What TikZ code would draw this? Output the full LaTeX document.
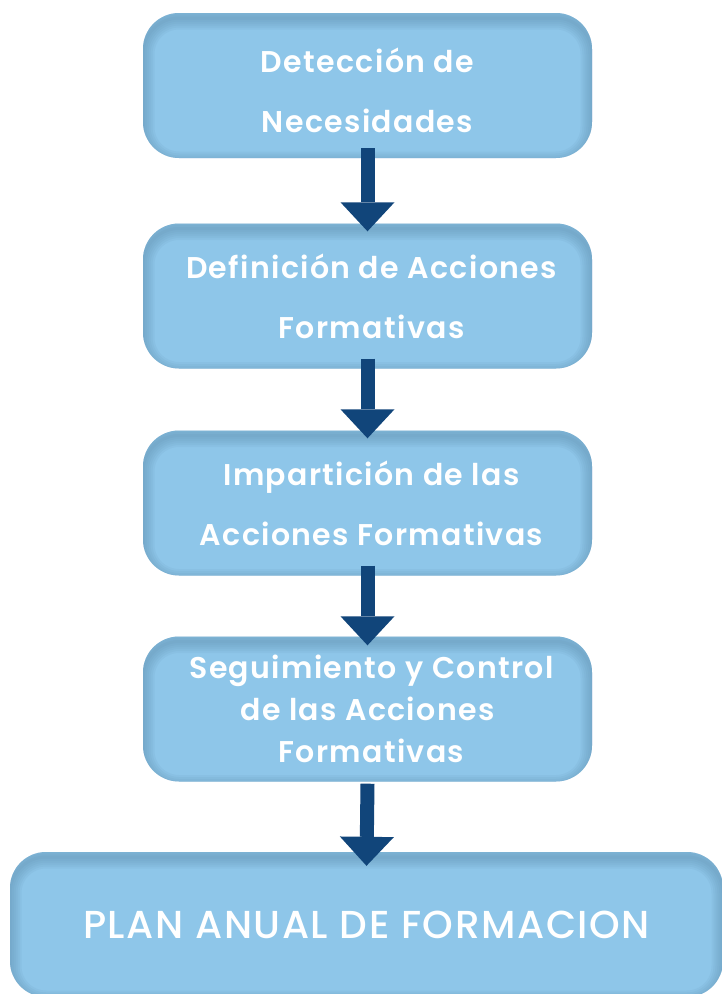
\documentclass[tikz,border=0pt]{standalone}
\usepackage{fontspec}
\newfontfamily\mfont{Poppins SemiBold}[LetterSpace=4.5]
\newfontfamily\pfont{Poppins Medium}[LetterSpace=4]
\usetikzlibrary{arrows.meta,calc}
\definecolor{boxfill}{HTML}{8EC6E9}
\definecolor{boxedge}{HTML}{5F8FB0}
\definecolor{arrowblue}{HTML}{11457A}
\tikzset{
 stepbox/.style={rounded corners=36pt, fill=boxfill, minimum width=449pt, minimum height=145pt,
   inner sep=0pt, text=white, align=center,
   path picture={
     \foreach \w in {3,7,11,15,19,23}{
       \draw[boxedge, opacity=0.1, line width=\w pt, rounded corners=36pt]
         ([yshift=-5pt]path picture bounding box.south west) rectangle
         ([yshift=-5pt]path picture bounding box.north east);
     }
   }},
 stepfont/.style={font={\mfont\fontsize{30}{60}\selectfont}},
 tightfont/.style={font={\mfont\fontsize{30}{42}\selectfont}},
 planfont/.style={font={\pfont\fontsize{39}{44}\selectfont}},
 flowarrow/.style={draw=arrowblue, line width=14pt,
   -{Triangle[width=54pt,length=29pt,line width=0pt,fill=arrowblue]}}
}
\begin{document}
\begin{tikzpicture}[x=1pt,y=-1pt]
\useasboundingbox[fill=white] (0,0) rectangle (721,994);
\node[stepbox, stepfont] (b1) at (367.5,85.5) {\rule{0pt}{35pt}Detección de\\Necesidades};
\node[stepbox, stepfont] (b2) at (367.5,296) {\hspace*{8pt}Definición de Acciones\\\hspace*{8pt}Formativas};
\node[stepbox, stepfont] (b3) at (367.5,503) {\hspace*{8pt}Impartición de las\\\hspace*{8pt}Acciones Formativas};
\node[stepbox, tightfont] (b4) at (367.5,709) {\hspace*{8pt}Seguimiento y Control\\de las Acciones\\\hspace*{8pt}Formativas};
\node[stepbox, planfont, minimum width=713pt] (b5) at (366.5,924.5) {\raisebox{-8pt}{PLAN ANUAL DE FORMACION}};
\draw[flowarrow] ([yshift=10pt]b1.south) -- ([yshift=-8pt]b2.north);
\draw[flowarrow] ([yshift=10pt]b2.south) -- ([yshift=-8pt]b3.north);
\draw[flowarrow] ([yshift=10pt]b3.south) -- ([yshift=-9pt]b4.north);
\draw[flowarrow] ([yshift=-2pt]b4.south) -- ([yshift=-14pt]b5.north);
\end{tikzpicture}
\end{document}
